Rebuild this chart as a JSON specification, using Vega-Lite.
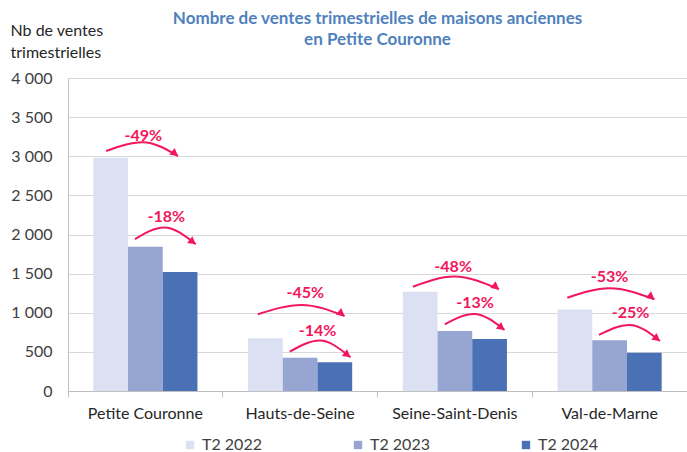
{
  "$schema": "https://vega.github.io/schema/vega-lite/v6.json",
  "autosize": "none",
  "width": 619,
  "height": 313,
  "padding": {"left": 68, "top": 78, "right": 0, "bottom": 61},
  "background": "white",
  "config": {
    "font": "Lato",
    "view": {"stroke": null},
    "axis": {"labelFont": "Lato", "titleFont": "Lato"}
  },
  "title": {
    "text": ["Nombre de ventes trimestrielles de maisons anciennes", "en Petite Couronne"],
    "font": "Lato",
    "fontSize": 17,
    "fontWeight": "bold",
    "color": "#4F81BD",
    "lineHeight": 21,
    "anchor": "middle",
    "frame": "group",
    "offset": -27
  },
  "datasets": {
    "bars": [
      {"dep": "Petite Couronne", "serie": "T2 2022", "ventes": 2980},
      {"dep": "Petite Couronne", "serie": "T2 2023", "ventes": 1845},
      {"dep": "Petite Couronne", "serie": "T2 2024", "ventes": 1520},
      {"dep": "Hauts-de-Seine", "serie": "T2 2022", "ventes": 673},
      {"dep": "Hauts-de-Seine", "serie": "T2 2023", "ventes": 426},
      {"dep": "Hauts-de-Seine", "serie": "T2 2024", "ventes": 367},
      {"dep": "Seine-Saint-Denis", "serie": "T2 2022", "ventes": 1269},
      {"dep": "Seine-Saint-Denis", "serie": "T2 2023", "ventes": 767},
      {"dep": "Seine-Saint-Denis", "serie": "T2 2024", "ventes": 665},
      {"dep": "Val-de-Marne", "serie": "T2 2022", "ventes": 1040},
      {"dep": "Val-de-Marne", "serie": "T2 2023", "ventes": 650},
      {"dep": "Val-de-Marne", "serie": "T2 2024", "ventes": 490}
    ],
    "arcs": [
      {"arc": "PC1", "dep": "Petite Couronne", "slot": -0.13, "ventes": 3067, "pt": "start"},
      {"arc": "PC1", "dep": "Petite Couronne", "slot": 0.92, "ventes": 3180, "pt": "peak"},
      {"arc": "PC1", "dep": "Petite Couronne", "slot": 1.94, "ventes": 3003, "pt": "end"},
      {"arc": "PC2", "dep": "Petite Couronne", "slot": 0.7, "ventes": 1942, "pt": "start"},
      {"arc": "PC2", "dep": "Petite Couronne", "slot": 1.54, "ventes": 2090, "pt": "peak"},
      {"arc": "PC2", "dep": "Petite Couronne", "slot": 2.45, "ventes": 1875, "pt": "end"},
      {"arc": "HS1", "dep": "Hauts-de-Seine", "slot": -0.22, "ventes": 980, "pt": "start"},
      {"arc": "HS1", "dep": "Hauts-de-Seine", "slot": 1.04, "ventes": 1100, "pt": "peak"},
      {"arc": "HS1", "dep": "Hauts-de-Seine", "slot": 2.28, "ventes": 958, "pt": "end"},
      {"arc": "HS2", "dep": "Hauts-de-Seine", "slot": 0.7, "ventes": 502, "pt": "start"},
      {"arc": "HS2", "dep": "Hauts-de-Seine", "slot": 1.56, "ventes": 645, "pt": "peak"},
      {"arc": "HS2", "dep": "Hauts-de-Seine", "slot": 2.45, "ventes": 431, "pt": "end"},
      {"arc": "SSD1", "dep": "Seine-Saint-Denis", "slot": -0.21, "ventes": 1333, "pt": "start"},
      {"arc": "SSD1", "dep": "Seine-Saint-Denis", "slot": 0.98, "ventes": 1462, "pt": "peak"},
      {"arc": "SSD1", "dep": "Seine-Saint-Denis", "slot": 2.27, "ventes": 1300, "pt": "end"},
      {"arc": "SSD2", "dep": "Seine-Saint-Denis", "slot": 0.71, "ventes": 852, "pt": "start"},
      {"arc": "SSD2", "dep": "Seine-Saint-Denis", "slot": 1.55, "ventes": 985, "pt": "peak"},
      {"arc": "SSD2", "dep": "Seine-Saint-Denis", "slot": 2.43, "ventes": 780, "pt": "end"},
      {"arc": "VM1", "dep": "Val-de-Marne", "slot": -0.22, "ventes": 1192, "pt": "start"},
      {"arc": "VM1", "dep": "Val-de-Marne", "slot": 1.0, "ventes": 1313, "pt": "peak"},
      {"arc": "VM1", "dep": "Val-de-Marne", "slot": 2.29, "ventes": 1172, "pt": "end"},
      {"arc": "VM2", "dep": "Val-de-Marne", "slot": 0.69, "ventes": 716, "pt": "start"},
      {"arc": "VM2", "dep": "Val-de-Marne", "slot": 1.57, "ventes": 845, "pt": "peak"},
      {"arc": "VM2", "dep": "Val-de-Marne", "slot": 2.45, "ventes": 639, "pt": "end"}
    ],
    "labels": [
      {"dep": "Petite Couronne", "slot": 0.94, "ventes": 3262, "label": "-49%"},
      {"dep": "Petite Couronne", "slot": 1.6, "ventes": 2224, "label": "-18%"},
      {"dep": "Hauts-de-Seine", "slot": 1.15, "ventes": 1249, "label": "-45%"},
      {"dep": "Hauts-de-Seine", "slot": 1.5, "ventes": 771, "label": "-14%"},
      {"dep": "Seine-Saint-Denis", "slot": 0.95, "ventes": 1589, "label": "-48%"},
      {"dep": "Seine-Saint-Denis", "slot": 1.58, "ventes": 1121, "label": "-13%"},
      {"dep": "Val-de-Marne", "slot": 1.0, "ventes": 1453, "label": "-53%"},
      {"dep": "Val-de-Marne", "slot": 1.6, "ventes": 993, "label": "-25%"}
    ]
  },
  "encoding": {
    "x": {
      "field": "dep", "type": "nominal", "sort": null,
      "scale": {"paddingInner": 0, "paddingOuter": 0},
      "axis": {
        "title": null, "labelAngle": 0, "bandPosition": 0,
        "labelFontSize": 16, "labelColor": "#262626", "labelPadding": 8,
        "tickSize": 6, "tickColor": "#BFBFBF", "domainColor": "#BFBFBF", "grid": false
      }
    },
    "y": {
      "field": "ventes", "type": "quantitative",
      "scale": {"domain": [0, 4000], "nice": false},
      "axis": {
        "values": [0, 500, 1000, 1500, 2000, 2500, 3000, 3500, 4000],
        "labelOverlap": false,
        "labelExpr": "replace(format(datum.value, ','), ',', ' ')",
        "labelFontSize": 16, "labelColor": "#404040", "labelPadding": 16,
        "ticks": false, "domainColor": "#BFBFBF", "gridColor": "#D9D9D9",
        "title": ["Nb de ventes", "trimestrielles"],
        "titleFontSize": 16, "titleFontWeight": "normal", "titleColor": "#262626",
        "titleAngle": 0, "titleAlign": "left", "titleBaseline": "alphabetic",
        "titleX": -58, "titleY": -43, "titleLineHeight": 22
      }
    }
  },
  "layer": [
    {
      "data": {"name": "bars"},
      "mark": {"type": "bar"},
      "encoding": {
        "xOffset": {
          "field": "serie", "type": "nominal", "sort": null,
          "scale": {"paddingInner": 0, "paddingOuter": 0.729}
        },
        "color": {
          "field": "serie", "type": "nominal",
          "scale": {"domain": ["T2 2022", "T2 2023", "T2 2024"], "range": ["#DCE0F3", "#97A5D3", "#4A70B5"]},
          "legend": {
            "title": null, "orient": "none", "direction": "horizontal",
            "legendX": 114, "legendY": 359,
            "symbolType": "square", "symbolSize": 70, "symbolStrokeWidth": 0,
            "labelFont": "Lato", "labelFontSize": 16, "labelColor": "#404040", "columnPadding": 88
          }
        }
      }
    },
    {
      "data": {"name": "arcs"},
      "mark": {"type": "line", "interpolate": "monotone", "color": "#F2175C", "strokeWidth": 2},
      "encoding": {
        "xOffset": {"field": "slot", "type": "quantitative", "scale": {"domain": [0, 2], "range": [42.7, 112.1]}},
        "detail": {"field": "arc"},
        "order": {"field": "slot", "type": "quantitative"}
      }
    },
    {
      "data": {"name": "arcs"},
      "transform": [{"filter": "datum.pt == 'end'"}],
      "mark": {"type": "point", "shape": "M0,0L-1.6,-0.9L-1.6,0.9Z", "filled": true, "color": "#F2175C", "size": 90, "angle": 38, "opacity": 1},
      "encoding": {
        "xOffset": {"field": "slot", "type": "quantitative", "scale": {"domain": [0, 2], "range": [42.7, 112.1]}}
      }
    },
    {
      "data": {"name": "labels"},
      "mark": {"type": "text", "font": "Lato", "fontSize": 16, "fontWeight": "bold", "color": "#F2175C", "baseline": "middle"},
      "encoding": {
        "xOffset": {"field": "slot", "type": "quantitative", "scale": {"domain": [0, 2], "range": [42.7, 112.1]}},
        "text": {"field": "label"}
      }
    }
  ],
  "resolve": {"scale": {"xOffset": "independent"}}
}
